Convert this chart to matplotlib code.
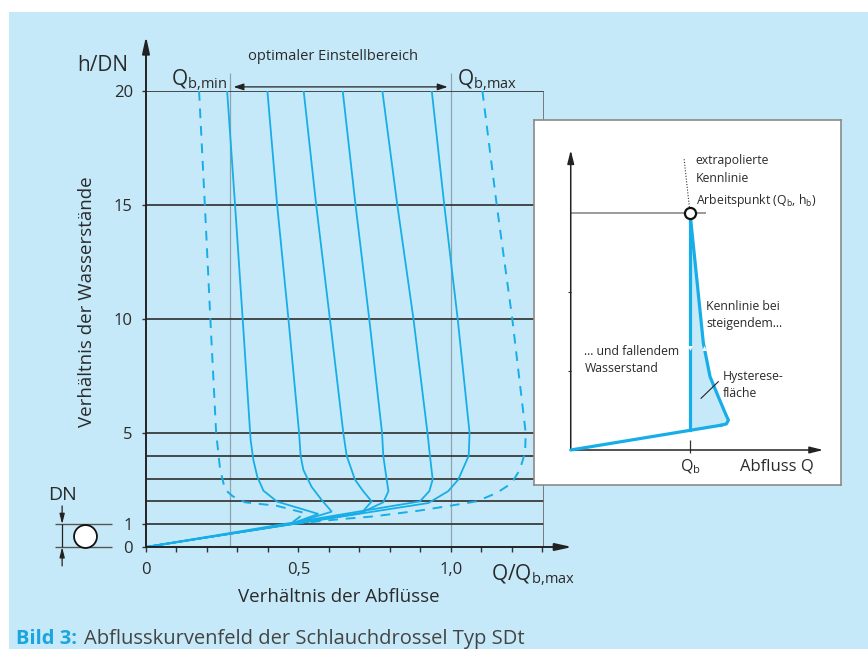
import matplotlib
matplotlib.use('Agg')
from matplotlib import pyplot as plt
from matplotlib.patches import Rectangle

plt.rcParams['font.family'] = ['Open Sans', 'DejaVu Sans']
plt.rcParams['mathtext.fontset'] = 'custom'
plt.rcParams['mathtext.rm'] = 'Open Sans'
plt.rcParams['mathtext.it'] = 'Open Sans:italic'

# Abflusskurven: Q/Qb,max (x) und h/DN (y), von oben nach unten gelesen
CURVE_Q = [
    [0.266, 0.292, 0.317, 0.343, 0.352, 0.365, 0.385, 0.430, 0.565, 0.472, 0.0],
    [0.398, 0.430, 0.467, 0.502, 0.507, 0.516, 0.543, 0.576, 0.609, 0.480, 0.0],
    [0.517, 0.558, 0.603, 0.647, 0.658, 0.685, 0.712, 0.740, 0.707, 0.0],
    [0.645, 0.687, 0.732, 0.774, 0.778, 0.789, 0.795, 0.778, 0.700, 0.0],
    [0.775, 0.824, 0.877, 0.923, 0.931, 0.940, 0.929, 0.898, 0.0],
    [0.937, 0.978, 1.022, 1.061, 1.058, 1.024, 0.991, 0.926, 0.0],
]
CURVE_H = [
    [20, 15, 10, 4.7, 3.82, 3.08, 2.47, 1.99, 1.45, 1.0, 0.0],
    [20, 15, 10, 5, 4, 3.38, 2.64, 2.06, 1.55, 1.02, 0.0],
    [20, 15, 10, 5, 4, 2.96, 2.45, 2.0, 1.5, 0.0],
    [20, 15, 10, 5, 4, 2.96, 2.45, 1.96, 1.47, 0.0],
    [20, 15, 10, 5, 4, 2.96, 2.45, 2.0, 0.0],
    [20, 15, 10, 5, 4, 2.96, 2.45, 1.93, 0.0],
]
DASH_LEFT_Q = [0.174, 0.193, 0.211, 0.230, 0.243, 0.259, 0.284, 0.325, 0.428, 0.521, 0.472]
DASH_LEFT_H = [20, 15, 10, 5, 3.41, 2.52, 2.23, 1.96, 1.81, 1.49, 1.0]
DASH_RIGHT_Q = [1.103, 1.150, 1.201, 1.245, 1.243, 1.226, 1.199, 1.150, 1.084, 0.997, 0.898, 0.745, 0.636, 0.472]
DASH_RIGHT_H = [20, 15, 10, 5, 4.15, 3.4, 2.8, 2.37, 2.0, 1.81, 1.6, 1.34, 1.22, 1.0]

GRID_H = [1, 2, 3, 4, 5, 10, 15, 20]
Y_TICKS = [0, 1, 5, 10, 15, 20]
X_TICKS = [0, 0.5, 1.0]
X_TICK_LABELS = ['0', '0,5', '1,0']
X_MINOR = [0.1, 0.2, 0.3, 0.4, 0.6, 0.7, 0.8, 0.9, 1.1, 1.2, 1.3]
QB_MIN, QB_MAX = 0.274, 1.0

# Inset: Arbeitspunkt bei (Qb, hb) = (1, 1)
INSET_BASE_Q = [0.0, 1.266]
INSET_BASE_H = [0.0, 0.105]
INSET_RISE_Q = [1.266, 1.305, 1.322, 1.300, 1.237, 1.168, 1.112, 1.0]
INSET_RISE_H = [0.105, 0.110, 0.126, 0.150, 0.225, 0.309, 0.45, 1.0]
INSET_FALL_Q = [1.0, 1.0]
INSET_FALL_H = [1.0, 0.084]
INSET_YTICKS = [1 / 3, 2 / 3]

BLUE = '#17aee8'
BG = '#c6e9f9'
INK = '#2a2a2a'

W, H = 868, 649


def px_box(left, top, right, bottom):
    return [left / W, 1 - bottom / H, (right - left) / W, (bottom - top) / H]


fig = plt.figure(figsize=(W / 100, H / 100), dpi=100)
fig.patches.append(Rectangle((9 / W, 0), 1 - 9 / W, 1 - 12 / H, transform=fig.transFigure,
                             facecolor=BG, edgecolor='none', zorder=-10))

ax = fig.add_axes(px_box(146, 91, 543.7, 547), zorder=1)
ax.set_facecolor('none')
ax.set_xlim(0, 1.304)
ax.set_ylim(0, 20)
for spine in ax.spines.values():
    spine.set_visible(False)

ax.hlines(GRID_H, 0, 1.304, color='#2e2e2e', lw=1.2, zorder=2)
ax.vlines(1.304, 0, 20, color='#707070', lw=2, zorder=2)
ax.vlines([QB_MIN, QB_MAX], 0, 20.77, color='#8ea3b0', lw=0.9, zorder=1, clip_on=False)

for q, h in zip(CURVE_Q, CURVE_H):
    ax.plot(q, h, color=BLUE, lw=1.3, zorder=3, solid_joinstyle='miter')
ax.plot(DASH_LEFT_Q, DASH_LEFT_H, color=BLUE, lw=1.4, dashes=(5, 4), zorder=3)
ax.plot(DASH_RIGHT_Q, DASH_RIGHT_H, color=BLUE, lw=1.4, dashes=(5, 4), zorder=3)

# axes with arrows
arrow = dict(arrowstyle='-|>,head_length=1.0,head_width=0.22', color='#222', lw=1.4,
             shrinkA=0, shrinkB=0)
ax.annotate('', xy=(0, 22.4), xytext=(0, 0), arrowprops=arrow, annotation_clip=False, zorder=4)
ax.annotate('', xy=(1.397, 0), xytext=(0, 0), arrowprops=arrow, annotation_clip=False, zorder=4)

ax.set_xticks(X_TICKS)
ax.set_xticklabels(X_TICK_LABELS)
ax.set_xticks(X_MINOR, minor=True)
ax.tick_params(axis='x', which='both', direction='out', length=3.5, width=1, color='#333',
               pad=7.5, labelsize=12, labelcolor=INK)
ax.set_yticks(Y_TICKS)
ax.tick_params(axis='y', direction='out', length=3, width=1, color='#333',
               pad=6.5, labelsize=12, labelcolor=INK)

ax.text(-0.141, 21.1, 'h/DN', fontsize=15, color=INK, ha='center', va='center')
ax.text(-0.193, 10.75, 'Verhältnis der Wasserstände', fontsize=13.5, color=INK, rotation=90,
        ha='center', va='center')
ax.text(0.632, -2.41, 'Verhältnis der Abflüsse', fontsize=13.5, color=INK, ha='center', va='baseline')
ax.text(1.131, -1.45, r'Q/Q$_{\mathrm{b{,}max}}$', fontsize=15, color=INK, ha='left', va='baseline')
ax.text(0.613, 21.5, 'optimaler Einstellbereich', fontsize=10.5, color=INK, ha='center', va='center')
ax.text(0.265, 20.25, r'Q$_{\mathrm{b{,}min}}$', fontsize=15, color=INK, ha='right', va='baseline')
ax.text(1.02, 20.25, r'Q$_{\mathrm{b{,}max}}$', fontsize=15, color=INK, ha='left', va='baseline')
ax.annotate('', xy=(0.287, 20.18), xytext=(0.989, 20.18), annotation_clip=False,
            arrowprops=dict(arrowstyle='<|-|>,head_length=0.6,head_width=0.2', color='#222', lw=0.9,
                            shrinkA=0, shrinkB=0))

# DN symbol
ax.hlines([0, 1], -0.298, -0.112, color='#555', lw=1, clip_on=False)
ax.plot([-0.2], [0.5], marker='o', ms=16.5, mfc='white', mec='#111', mew=1.3, clip_on=False, zorder=4)
ax.vlines(-0.275, 0, 1, color='#222', lw=0.9, clip_on=False)
small = dict(arrowstyle='-|>,head_length=0.6,head_width=0.15', color='#222', lw=0.9, shrinkA=0, shrinkB=0)
ax.annotate('', xy=(-0.275, 1), xytext=(-0.275, 1.8), arrowprops=small, annotation_clip=False)
ax.annotate('', xy=(-0.275, 0), xytext=(-0.275, -0.83), arrowprops=small, annotation_clip=False)
ax.text(-0.275, 2.28, 'DN', fontsize=14, color=INK, ha='center', va='center')

# inset
ins = fig.add_axes(px_box(534, 120, 841, 485), zorder=5)
ins.set_facecolor('white')
ins.set_xlim(-0.308, 2.266)
ins.set_ylim(-0.1475, 1.391)
ins.set_xticks([])
ins.set_yticks([])
for spine in ins.spines.values():
    spine.set_color('#8a8a8a')
    spine.set_linewidth(1.2)

ins.fill(INSET_RISE_Q + INSET_FALL_Q[1:] + [INSET_RISE_Q[0]],
         INSET_RISE_H + INSET_FALL_H[1:] + [INSET_RISE_H[0]], color=BG, lw=0, zorder=1)
ins.hlines(1, 0, 1.134, color='#8a8a8a', lw=1.2, zorder=1)
ins.hlines(INSET_YTICKS, -0.025, 0, color='#333', lw=0.8)
ins.vlines(1, -0.014, 0.042, color='#333', lw=0.9)
ins.plot([1, 0.95], [1, 1.229], color='#333', lw=0.8, ls=(0, (1, 1.5)))
ins_arrow = dict(arrowstyle='-|>,head_length=0.8,head_width=0.2', color='#222', lw=1.1,
                 shrinkA=0, shrinkB=0)
ins.annotate('', xy=(0, 1.264), xytext=(0, 0), arrowprops=ins_arrow)
ins.annotate('', xy=(2.117, 0), xytext=(0, 0), arrowprops=ins_arrow)

ins.plot(INSET_BASE_Q, INSET_BASE_H, color=BLUE, lw=2.3, solid_capstyle='round', zorder=3)
ins.plot(INSET_FALL_Q, INSET_FALL_H, color=BLUE, lw=2.3, zorder=3)
ins.plot(INSET_RISE_Q, INSET_RISE_H, color=BLUE, lw=2.3, zorder=3, solid_joinstyle='round')
ins.plot([1.0], [0.43], marker='v', ms=3.5, color='white', mew=0, zorder=4)
ins.plot([1.115], [0.43], marker='^', ms=3.5, color='white', mew=0, zorder=4)
ins.plot([1], [1], marker='o', ms=8, mfc='white', mec='#111', mew=1.6, zorder=5)
ins.plot([1.093, 1.237], [0.218, 0.288], color='#222', lw=0.8, zorder=4)

fs = 8.8
ins.text(1.048, 1.222, 'extrapolierte', fontsize=fs, color=INK, va='center')
ins.text(1.048, 1.146, 'Kennlinie', fontsize=fs, color=INK, va='center')
ins.text(1.048, 1.053, r'Arbeitspunkt (Q$_{\mathrm{b}}$, h$_{\mathrm{b}}$)', fontsize=fs, color=INK, va='center')
ins.text(1.134, 0.604, 'Kennlinie bei', fontsize=fs, color=INK, va='center')
ins.text(1.134, 0.534, 'steigendem...', fontsize=fs, color=INK, va='center')
ins.text(0.114, 0.414, '... und fallendem', fontsize=fs, color=INK, va='center')
ins.text(0.114, 0.344, 'Wasserstand', fontsize=fs, color=INK, va='center')
ins.text(1.274, 0.309, 'Hysterese-', fontsize=fs, color=INK, va='center')
ins.text(1.274, 0.239, 'fläche', fontsize=fs, color=INK, va='center')
ins.text(1.0, -0.07, r'Q$_{\mathrm{b}}$', fontsize=11.5, color=INK, ha='center', va='center')
ins.text(1.727, -0.07, 'Abfluss Q', fontsize=12, color=INK, ha='center', va='center')

# caption
fig.text(16 / W, 5 / H, 'Bild 3:', fontsize=14.5, fontweight='bold', color='#1aa5df', va='baseline')
fig.text(84 / W, 5 / H, 'Abflusskurvenfeld der Schlauchdrossel Typ SDt', fontsize=14.5,
         color='#444444', va='baseline')

fig.savefig('out.png', dpi=100, facecolor='white')
